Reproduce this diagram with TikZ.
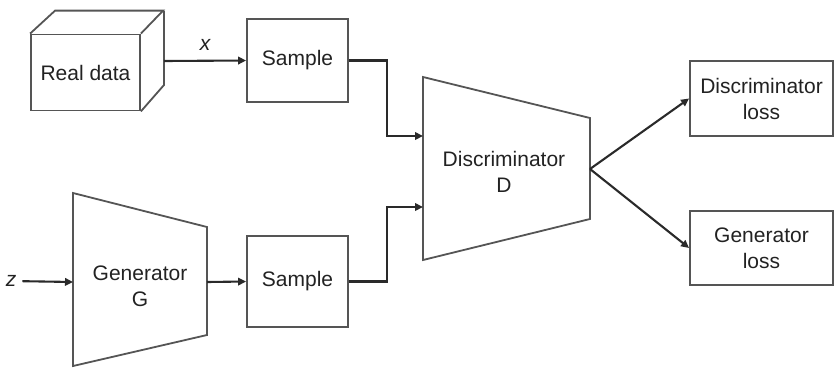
\documentclass[tikz,border=0pt]{standalone}
\usepackage{fontspec}
\setmainfont{Liberation Sans}
\usetikzlibrary{arrows.meta}
\definecolor{edgegray}{HTML}{555555}
\definecolor{linkgray}{HTML}{2A2A2A}
\definecolor{textgray}{HTML}{222222}
\begin{document}
\begin{tikzpicture}[x=1pt,y=-1pt,
  outline/.style={draw=edgegray, line width=1.8pt, line join=miter},
  box/.style={outline, rectangle, inner sep=0pt, text=textgray,
    font=\fontsize{21}{26}\selectfont, align=center},
  lbl/.style={text=textgray, font=\fontsize{21}{26}\selectfont, align=center, inner sep=0pt},
  link/.style={draw=linkgray, line width=2.1pt,
    -{Triangle[length=8pt,width=7.5pt]}}]
\useasboundingbox (0,0) rectangle (835,367);

% real data cube: front face as a node, back edges drawn from its corners
\node[box, minimum width=109pt, minimum height=76pt] (real) at (85.5,72.5) {Real data};
\draw[outline] (real.north west) -- ++(25,-23) -- ++(108,0) -- (real.north east);
\draw[outline] (164,11) -- (164,85) -- (real.south east);
\coordinate (realout) at (164,61);

% sample boxes
\node[box, minimum width=101pt, minimum height=83pt] (s1) at (297.5,60.5) {Sample};
\node[box, minimum width=101pt, minimum height=91pt] (s2) at (297.5,281.5) {Sample};

% generator trapezoid
\draw[outline] (73,193) -- (207,227) -- (207,335) -- (73,366) -- cycle;
\coordinate (gin) at (73,282);
\coordinate (gout) at (207,282);
\node[lbl] (gen) at (140,286) {Generator\\G};
\node[lbl, inner sep=6pt, font=\fontsize{21}{26}\selectfont\itshape] (z) at (11,281) {z};

% discriminator trapezoid
\draw[outline] (423,77) -- (590,118) -- (590,219) -- (423,260) -- cycle;
\coordinate (din1) at (423,136);
\coordinate (din2) at (423,207);
\coordinate (dout) at (590,169);
\node[lbl] (disc) at (504,172) {Discriminator\\D};

% loss boxes
\node[box, minimum width=143pt, minimum height=75pt] (dloss) at (761.5,98.5) {Discriminator\\loss};
\node[box, minimum width=143pt, minimum height=74pt] (gloss) at (761.5,248) {Generator\\loss};

% connectors
\draw[link] (realout) -- node[lbl, above=9pt, font=\fontsize{21}{26}\selectfont\itshape] (xl) {x} (s1.west);
\draw[link] (z) -- (gin);
\draw[link] (gout) -- (s2.west);
\draw[link] (s1.east) -- ++(38,0) |- (din1);
\draw[link] (s2.east) -- ++(38,0) |- (din2);
\draw[link] (dout) -- (dloss.west);
\draw[link] (dout) -- (gloss.west);
\end{tikzpicture}
\end{document}
